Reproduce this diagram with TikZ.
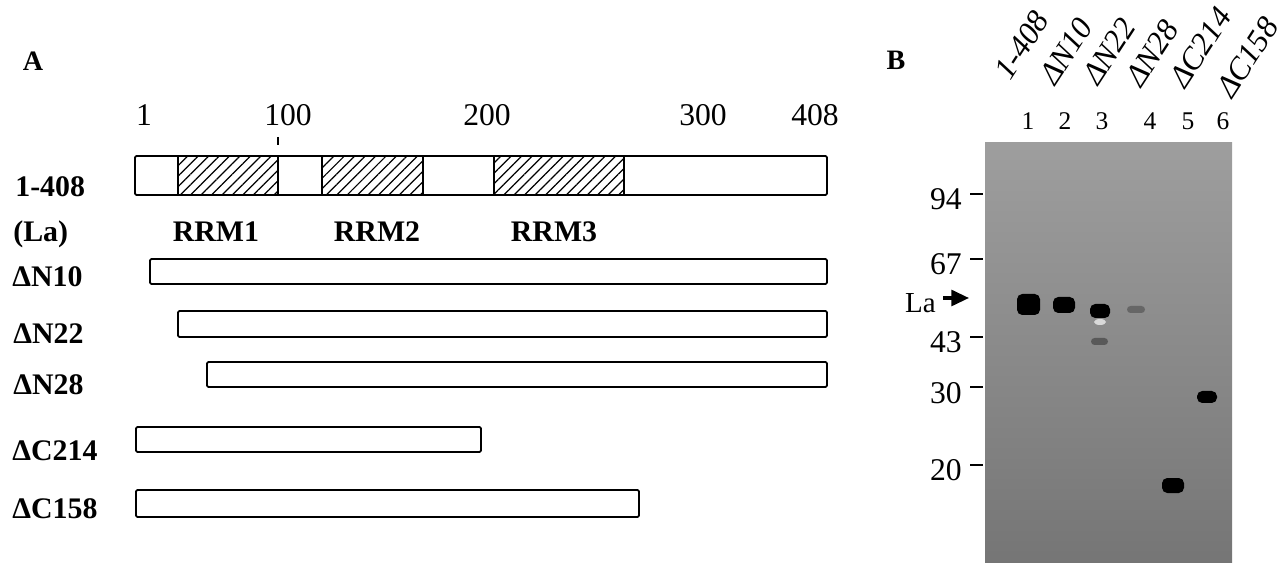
\documentclass[tikz,border=0pt]{standalone}
\usepackage{fontspec}
\setmainfont{Liberation Serif}
\usetikzlibrary{arrows.meta, positioning, patterns.meta}
\tikzstyle{bar} = [draw=black, line width=1pt, fill=white, rounded corners=0.8pt]
\tikzstyle{rrm} = [draw=black, line width=1pt, pattern={Lines[angle=45, distance=4.2pt, line width=0.7pt]}]
\tikzstyle{ruler} = [font=\fontsize{18}{20}\selectfont, anchor=base, inner sep=0pt]
\tikzstyle{cname} = [font=\fontsize{17}{19}\selectfont\bfseries, anchor=base west, inner sep=0pt]
\tikzstyle{rrmlbl} = [font=\fontsize{17}{19}\selectfont\bfseries, anchor=base, inner sep=0pt]
\tikzstyle{panel} = [font=\fontsize{16}{18}\selectfont\bfseries, inner sep=0pt]
\tikzstyle{lane} = [font=\fontsize{14.5}{16}\selectfont, anchor=base, inner sep=0pt]
\tikzstyle{construct} = [font=\fontsize{18}{20}\selectfont\itshape, rotate=57, anchor=base west, inner sep=0pt]
\tikzstyle{marker} = [font=\fontsize{18}{20}\selectfont, anchor=east, inner sep=0pt]
\tikzstyle{tick} = [line width=1pt]
\tikzstyle{band} = [fill=black, rounded corners=3pt]
\tikzstyle{arrow} = [line width=1.8pt, -{Triangle[length=10pt, width=9pt]}]
\colorlet{gelTop}{black!38}
\colorlet{gelBot}{black!54}

\begin{document}
\begin{tikzpicture}[x=0.02cm, y=-0.02cm]
    \useasboundingbox (0,0) rectangle (1280,563);
    % panel A: domain map
    \node (pa) [panel] at (33,61) {A};
    \node (r1) [ruler] at (144,126) {1};
    \node (r100) [ruler] at (288,126) {100};
    \node (r200) [ruler] at (487,126) {200};
    \node (r300) [ruler] at (703,126) {300};
    \node (r408) [ruler] at (815,126) {408};
    \draw [tick] (278,137) -- (278,145);

    \draw [bar] (135,156) rectangle (827,195);
    \draw [rrm] (178,156) rectangle (278,195);
    \draw [rrm] (322,156) rectangle (423,195);
    \draw [rrm] (494,156) rectangle (624,195);
    \node (full) [cname] at (15,197) {1-408};
    \node (la) [cname] at (13,242) {(La)};
    \node (rrm1) [rrmlbl] at (216,242) {RRM1};
    \node (rrm2) [rrmlbl] at (377,242) {RRM2};
    \node (rrm3) [rrmlbl] at (554,242) {RRM3};

    \draw [bar] (150,259) rectangle (827,284);
    \node (n10) [cname] at (12,287) {ΔN10};
    \draw [bar] (178,311) rectangle (827,337);
    \node (n22) [cname] at (13,344) {ΔN22};
    \draw [bar] (207,362) rectangle (827,387);
    \node (n28) [cname] at (13,395) {ΔN28};
    \draw [bar] (136,427) rectangle (481,452);
    \node (c214) [cname] at (12,460) {ΔC214};
    \draw [bar] (136,490) rectangle (639,517);
    \node (c158) [cname] at (12,518) {ΔC158};

    % panel B: gel
    \node (pb) [panel] at (896,60) {B};
    \node (t1) [construct] at (1010,82) {1-408};
    \node (t2) [construct] at (1055,87) {ΔN10};
    \node (t3) [construct] at (1098,87) {ΔN22};
    \node (t4) [construct] at (1141,89) {ΔN28};
    \node (t5) [construct] at (1185,90) {ΔC214};
    \node (t6) [construct] at (1232,100) {ΔC158};
    \node (l1) [lane] at (1028,130) {1};
    \node (l2) [lane] at (1065,130) {2};
    \node (l3) [lane] at (1102,130) {3};
    \node (l4) [lane] at (1150,130) {4};
    \node (l5) [lane] at (1188,130) {5};
    \node (l6) [lane] at (1223,130) {6};

    \shade [top color=gelTop, bottom color=gelBot] (985,143) rectangle (1232,563);
    \fill [band] (1017,294) rectangle (1040,315);
    \fill [band] (1053,297) rectangle (1075,313);
    \fill [band] (1090,304) rectangle (1110,318);
    \fill [black!15] (1100,322) ellipse (6 and 3);
    \fill [band, black!65, rounded corners=2pt] (1091,338) rectangle (1108,345);
    \fill [band, black!60, rounded corners=2pt] (1127,306) rectangle (1145,313);
    \fill [band] (1162,478) rectangle (1184,493);
    \fill [band] (1197,391) rectangle (1217,403);

    \node (m94) [marker] at (962,199) {94};
    \node (m67) [marker] at (962,264) {67};
    \node (m43) [marker] at (962,342) {43};
    \node (m30) [marker] at (962,393) {30};
    \node (m20) [marker] at (962,470) {20};
    \draw [tick] (970,194) -- (983,194);
    \draw [tick] (970,259) -- (983,259);
    \draw [tick] (970,337) -- (983,337);
    \draw [tick] (970,387) -- (983,387);
    \draw [tick] (970,465) -- (983,465);

    \node (lab) [marker, font=\fontsize{16.5}{18}\selectfont] at (936,303) {La};
    \coordinate (latip) at (969,298);
    \draw [arrow] ([xshift=0.14cm]lab.east |- latip) -- (latip);
\end{tikzpicture}
\end{document}
